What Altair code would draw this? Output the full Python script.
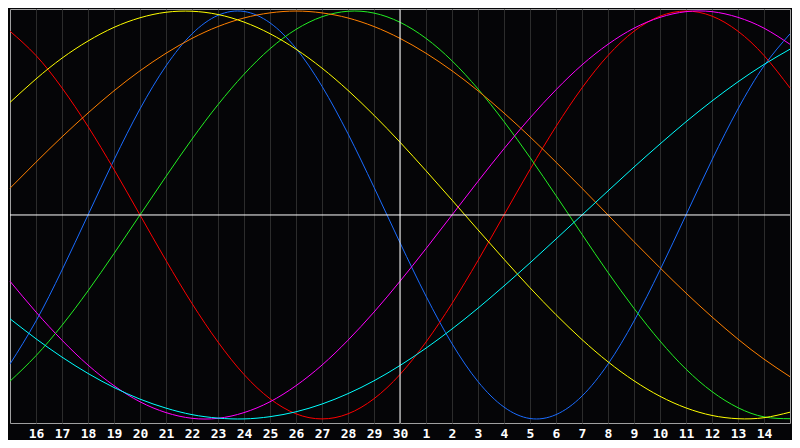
import altair as alt
import pandas as pd

# day index 0..30 across the chart; labels for ticks 1..29
day_index = list(range(31))
day_labels = ["16", "17", "18", "19", "20", "21", "22", "23", "24", "25", "26", "27", "28", "29", "30",
              "1", "2", "3", "4", "5", "6", "7", "8", "9", "10", "11", "12", "13", "14"]
today_index = 15
zero_level = 0

series_names = ["physical", "emotional", "intellectual", "awareness", "aesthetic", "intuitive", "spiritual"]
series_colors = ["#1a6cff", "#ff0000", "#22ee22", "#ff8000", "#ffff00", "#ff00ff", "#00ffff"]

physical = [-0.731, -0.520, -0.270, 0.0, 0.270, 0.520, 0.731, 0.888, 0.979, 0.998, 0.942, 0.817, 0.631,
            0.398, 0.136, -0.136, -0.398, -0.631, -0.817, -0.942, -0.998, -0.979, -0.888, -0.731,
            -0.520, -0.270, 0.0, 0.270, 0.520, 0.731, 0.888]
emotional = [0.901, 0.782, 0.623, 0.434, 0.223, 0.0, -0.223, -0.434, -0.623, -0.782, -0.901, -0.975,
             -1.0, -0.975, -0.901, -0.782, -0.623, -0.434, -0.223, 0.0, 0.223, 0.434, 0.623, 0.782,
             0.901, 0.975, 1.0, 0.975, 0.901, 0.782, 0.623]
intellectual = [-0.815, -0.690, -0.541, -0.372, -0.189, 0.0, 0.189, 0.372, 0.541, 0.690, 0.815, 0.910,
                0.972, 0.999, 0.990, 0.945, 0.866, 0.756, 0.618, 0.458, 0.282, 0.095, -0.095, -0.282,
                -0.458, -0.618, -0.756, -0.866, -0.945, -0.990, -0.999]
awareness = [0.131, 0.259, 0.383, 0.5, 0.609, 0.707, 0.793, 0.866, 0.924, 0.966, 0.991, 1.0, 0.991,
             0.966, 0.924, 0.866, 0.793, 0.707, 0.609, 0.5, 0.383, 0.259, 0.131, 0.0, -0.131, -0.259,
             -0.383, -0.5, -0.609, -0.707, -0.793]
aesthetic = [0.552, 0.667, 0.769, 0.853, 0.920, 0.967, 0.994, 0.999, 0.983, 0.946, 0.889, 0.813, 0.720,
             0.611, 0.489, 0.357, 0.217, 0.073, -0.073, -0.217, -0.357, -0.489, -0.611, -0.720,
             -0.813, -0.889, -0.946, -0.983, -0.999, -0.994, -0.967]
intuitive = [-0.325, -0.476, -0.614, -0.736, -0.837, -0.916, -0.969, -0.997, -0.997, -0.969, -0.916,
             -0.837, -0.736, -0.614, -0.476, -0.325, -0.165, 0.0, 0.165, 0.325, 0.476, 0.614, 0.736,
             0.837, 0.916, 0.969, 0.997, 0.997, 0.969, 0.916, 0.837]
spiritual = [-0.509, -0.607, -0.697, -0.777, -0.846, -0.903, -0.947, -0.979, -0.996, -1.0, -0.989,
             -0.965, -0.927, -0.876, -0.813, -0.738, -0.653, -0.559, -0.457, -0.348, -0.235, -0.118,
             0.0, 0.118, 0.235, 0.348, 0.457, 0.559, 0.653, 0.738, 0.813]

series_values = [physical, emotional, intellectual, awareness, aesthetic, intuitive, spiritual]

rows = []
for name, vals in zip(series_names, series_values):
    for d, v in zip(day_index, vals):
        rows.append({"day": d, "value": v, "series": name})
df = pd.DataFrame(rows)

label_map = {str(i + 1): lab for i, lab in enumerate(day_labels)}
label_expr = "{" + ",".join("'" + k + "':'" + v + "'" for k, v in label_map.items()) + "}[datum.label]"

x_scale = alt.Scale(domain=[0, 30], nice=False, zero=False)
y_scale = alt.Scale(domain=[-1.02, 1.01], nice=False, zero=False)

x_axis = alt.Axis(values=list(range(1, 30)), labelExpr=label_expr, grid=True,
                  gridColor="#2c2c2c", gridWidth=1, domain=False, ticks=False,
                  labelColor="#ffffff", labelFontWeight="bold", labelFontSize=13,
                  labelFont="DejaVu Sans Mono", labelPadding=4, labelAngle=0, title=None)

lines = alt.Chart(df).mark_line(strokeWidth=1, interpolate="natural").encode(
    x=alt.X("day:Q", scale=x_scale, axis=x_axis),
    y=alt.Y("value:Q", scale=y_scale, axis=None),
    color=alt.Color("series:N", scale=alt.Scale(domain=series_names, range=series_colors), legend=None),
    detail="series:N",
)

rule_df = pd.DataFrame({"day": [today_index], "value": [zero_level]})

vrule = alt.Chart(rule_df).mark_rule(color="#ffffff", strokeWidth=1).encode(
    x=alt.X("day:Q", scale=x_scale, axis=x_axis)
)
hrule = alt.Chart(rule_df).mark_rule(color="#ffffff", strokeWidth=1).encode(
    y=alt.Y("value:Q", scale=y_scale, axis=None)
)

chart = alt.layer(lines, vrule, hrule).properties(
    width=784, height=432, padding=0,
    autosize=alt.AutoSizeParams(type="fit", contains="padding"),
    background="#050507",
).configure_view(
    fill="#050507", stroke="#a0a0a0", strokeWidth=1
)

chart.save("out.html", embed_options={"renderer": "svg", "actions": False})
